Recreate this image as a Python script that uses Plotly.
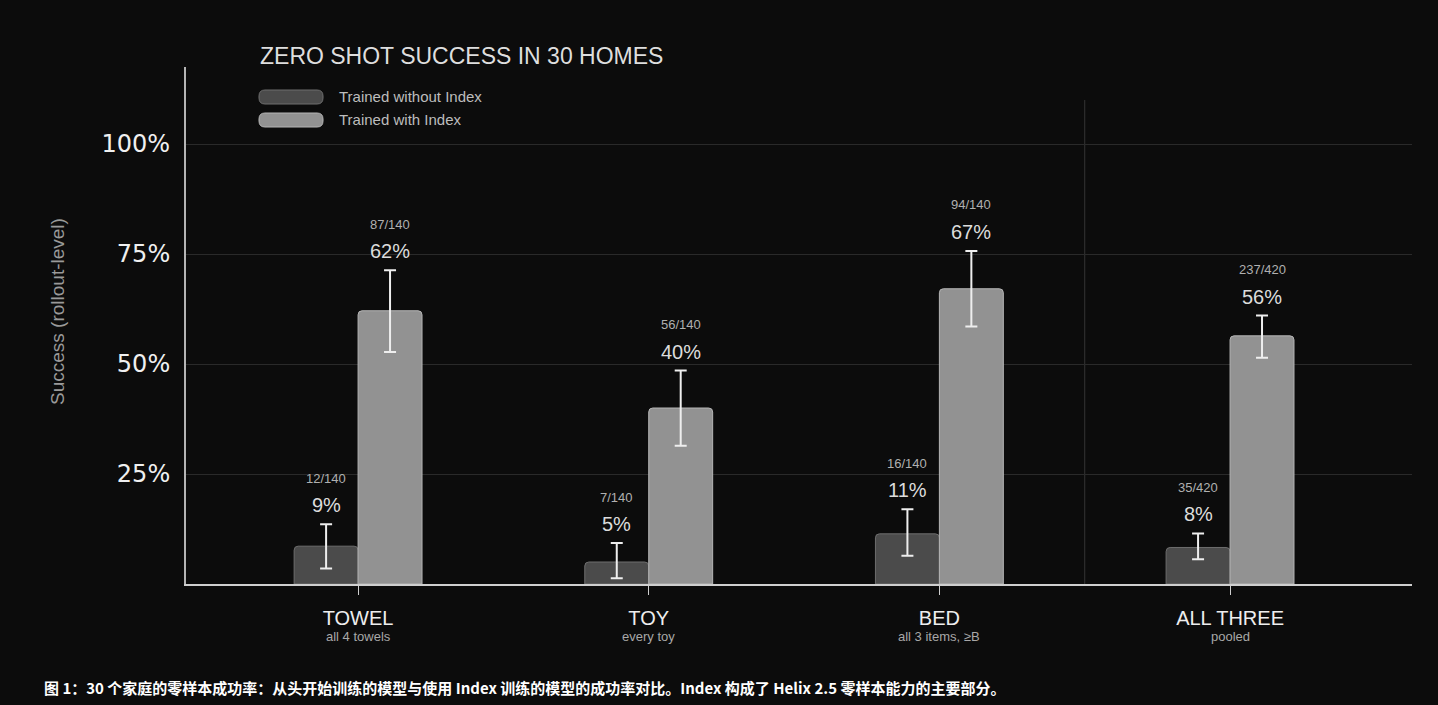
import plotly.graph_objects as go

# ---------------- data ----------------
categories = ["TOWEL", "TOY", "BED", "ALL THREE"]
subtitles = ["all 4 towels", "every toy", "all 3 items, ≥B", "pooled"]
series_names = ["Trained without Index", "Trained with Index"]

totals = [140, 140, 140, 420]
without_success = [12, 7, 16, 35]
with_success = [87, 56, 94, 237]

without_pct = [8.6, 5.0, 11.4, 8.3]
with_pct = [62.1, 40.0, 67.1, 56.4]

without_lo = [3.5, 1.3, 6.4, 5.6]
without_hi = [13.6, 9.3, 17.0, 11.5]
with_lo = [52.7, 31.4, 58.5, 51.4]
with_hi = [71.3, 48.5, 75.7, 61.0]

y_ticks = [25, 50, 75, 100]

# ---------------- layout constants ----------------
W, H = 1438, 705
L, R, T, B = 186, 26, 67, 121
PW, PH = W - L - R, H - T - B
BG = "#0c0c0c"
FONT = "Liberation Sans, Arial, sans-serif"

def px_x(px):
    return (px - L) / PW

def px_y(py):
    return (H - B - py) / PH

xs = list(range(len(categories)))
half = 0.11

fig = go.Figure()

fig.add_trace(go.Bar(
    x=xs, y=without_pct, name=series_names[0],
    marker=dict(color="#4b4b4b", line=dict(color="#6e6e6e", width=1), cornerradius=4),
    error_y=dict(type="data", symmetric=False,
                 array=[h - v for h, v in zip(without_hi, without_pct)],
                 arrayminus=[v - l for v, l in zip(without_pct, without_lo)],
                 color="#eeeeee", thickness=2, width=6),
    showlegend=False, hoverinfo="skip",
))
fig.add_trace(go.Bar(
    x=xs, y=with_pct, name=series_names[1],
    marker=dict(color="#929292", line=dict(color="#b5b5b5", width=1), cornerradius=4),
    error_y=dict(type="data", symmetric=False,
                 array=[h - v for h, v in zip(with_hi, with_pct)],
                 arrayminus=[v - l for v, l in zip(with_pct, with_lo)],
                 color="#eeeeee", thickness=2, width=6),
    showlegend=False, hoverinfo="skip",
))

annotations = []
for i in xs:
    for off, pct, hi, succ in ((-half, without_pct[i], without_hi[i], without_success[i]),
                               (half, with_pct[i], with_hi[i], with_success[i])):
        annotations.append(dict(x=i + off, y=hi, xref="x", yref="y", text=f"{round(pct)}%",
                                showarrow=False, yanchor="middle", yshift=19,
                                font=dict(family=FONT, size=20, color="#dcdcdc")))
        annotations.append(dict(x=i + off, y=hi, xref="x", yref="y", text=f"{succ}/{totals[i]}",
                                showarrow=False, yanchor="middle", yshift=46,
                                font=dict(family=FONT, size=13, color="#b0b0b0")))
    # category subtitle
    annotations.append(dict(x=i, y=px_y(636), xref="x", yref="paper", text=subtitles[i],
                            showarrow=False, xanchor="center", yanchor="middle",
                            font=dict(family=FONT, size=13, color="#a8a8a8")))

# y axis title
annotations.append(dict(x=px_x(57), y=px_y(312), xref="paper", yref="paper",
                        text="Success (rollout-level)", textangle=-90, showarrow=False,
                        xanchor="center", yanchor="middle",
                        font=dict(family=FONT, size=19, color="#9a9a9a")))

# legend text + swatches
shapes = []
leg_colors = [("#4b4b4b", "#6e6e6e"), ("#929292", "#b5b5b5")]
for k, (name, (fc, lc)) in enumerate(zip(series_names, leg_colors)):
    cy = 97 + 23 * k
    x0, x1, y0, y1 = 259, 323, cy - 7, cy + 7
    r = 6
    path = (f"M {px_x(x0 + r)} {px_y(y0)} L {px_x(x1 - r)} {px_y(y0)} "
            f"Q {px_x(x1)} {px_y(y0)} {px_x(x1)} {px_y(y0 + r)} "
            f"L {px_x(x1)} {px_y(y1 - r)} Q {px_x(x1)} {px_y(y1)} {px_x(x1 - r)} {px_y(y1)} "
            f"L {px_x(x0 + r)} {px_y(y1)} Q {px_x(x0)} {px_y(y1)} {px_x(x0)} {px_y(y1 - r)} "
            f"L {px_x(x0)} {px_y(y0 + r)} Q {px_x(x0)} {px_y(y0)} {px_x(x0 + r)} {px_y(y0)} Z")
    shapes.append(dict(type="path", path=path, xref="paper", yref="paper",
                       fillcolor=fc, line=dict(color=lc, width=1)))
    annotations.append(dict(x=px_x(337), y=px_y(cy), xref="paper", yref="paper", text=name,
                            showarrow=False, xanchor="left", yanchor="middle",
                            font=dict(family=FONT, size=15, color="#bdbdbd")))

# separator line before pooled group
shapes.append(dict(type="line", xref="x", yref="y", x0=2.5, x1=2.5, y0=0, y1=110,
                   line=dict(color="#353535", width=1), layer="below"))

# caption
annotations.append(dict(x=px_x(42), y=px_y(687), xref="paper", yref="paper",
                        text="<b>图 1：30 个家庭的零样本成功率：从头开始训练的模型与使用 Index 训练的模型的成功率对比。Index 构成了 Helix 2.5 零样本能力的主要部分。</b>",
                        showarrow=False, xanchor="left", yanchor="middle",
                        font=dict(family="Noto Sans CJK SC, sans-serif", size=15, color="#ffffff")))

fig.update_layout(
    width=W, height=H,
    margin=dict(l=L, r=R, t=T, b=B, pad=0),
    paper_bgcolor=BG, plot_bgcolor=BG,
    barmode="group", bargap=0.56, bargroupgap=0,
    title=dict(text="ZERO SHOT SUCCESS IN 30 HOMES", x=260 / W, xanchor="left",
               y=1 - 56 / H, yanchor="middle",
               font=dict(family=FONT, size=23, color="#dedede")),
    xaxis=dict(range=[-0.592, 3.626], tickvals=xs, ticktext=categories,
               showgrid=False, zeroline=False, showline=True, linecolor="#cfcfcf", linewidth=1.5,
               ticks="outside", ticklen=9, tickcolor="#cfcfcf", tickwidth=1,
               ticklabelstandoff=6,
               tickfont=dict(family=FONT, size=20, color="#eeeeee")),
    yaxis=dict(range=[0, 117.5], tickvals=y_ticks, ticktext=[f"{v}%" for v in y_ticks],
               showgrid=True, gridcolor="#2a2a2a", gridwidth=1, zeroline=False,
               showline=True, linecolor="#b5b5b5", linewidth=2, ticks="",
               ticklabelstandoff=9,
               tickfont=dict(family="DejaVu Sans, sans-serif", size=24, color="#f0f0f0")),
    annotations=annotations, shapes=shapes,
)

fig.write_html("out.html", config={"displayModeBar": False},
               post_script="document.body.style.margin='0';document.body.style.background='#0c0c0c';")
